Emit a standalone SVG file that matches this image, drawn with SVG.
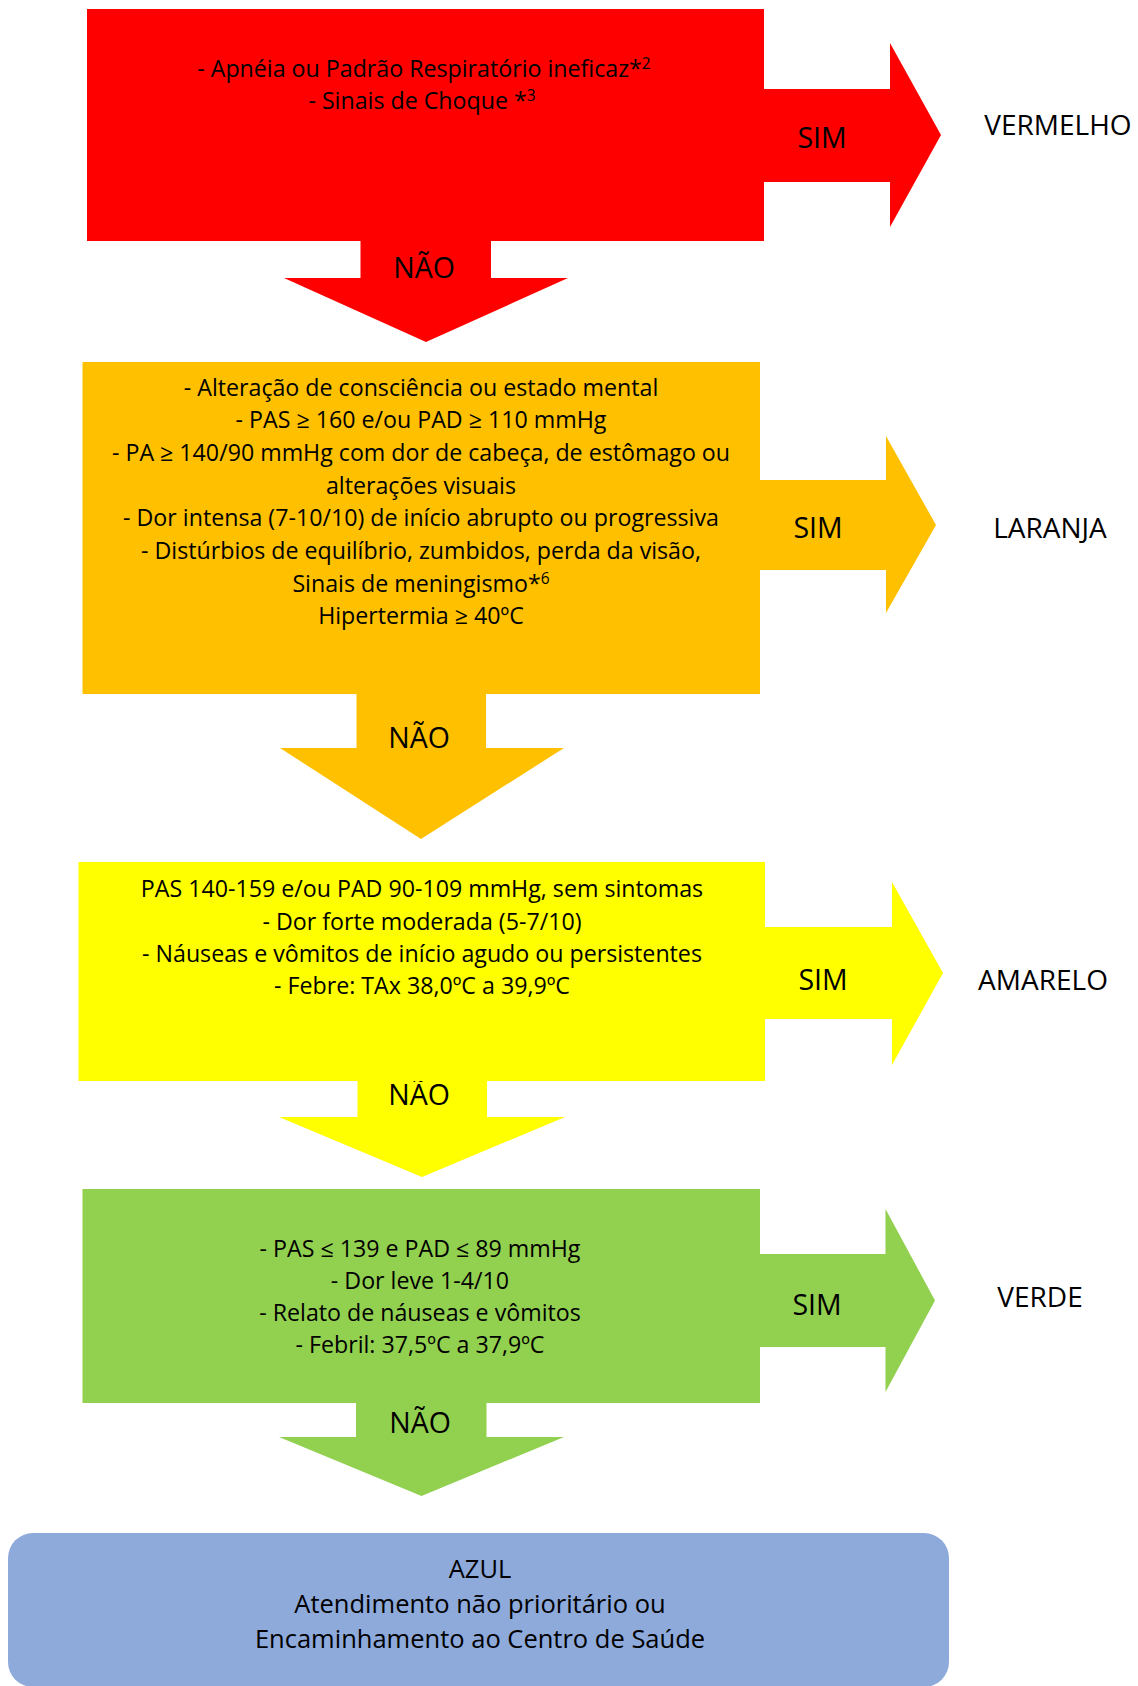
<svg xmlns="http://www.w3.org/2000/svg" width="1138" height="1686" viewBox="0 0 1138 1686">
<style>
  text { font-family: "Open Sans", Lato, "Liberation Sans", sans-serif; fill: #000; text-anchor: middle; }
  .body { font-size: 23.2px; }
  .lbl { font-size: 28.5px; }
  .side { font-size: 28px; }
  .azul { font-size: 25.5px; }
  .sup { font-size: 15.5px; }
  .red { fill: #FF0000; }
  .orange { fill: #FFC000; }
  .yellow { fill: #FFFF00; }
  .green { fill: #92D050; }
  .blue { fill: #8EAADB; }
</style>
<rect width="1138" height="1686" fill="#FFFFFF"/>

<g id="connectors">
  <!-- red -->
  <polygon class="red" points="760,89 890,89 890,43 941,135 890,227 890,182 760,182"/>
  <polygon class="red" points="360.5,236 491,236 491,278 568,278 426,342 284,278 360.5,278"/>
  <!-- orange -->
  <polygon class="orange" points="756,480 886,480 886,436 936,525 886,613 886,570 756,570"/>
  <polygon class="orange" points="356.5,690 486,690 486,748 564,748 421,839 280,748 356.5,748"/>
  <!-- yellow -->
  <polygon class="yellow" points="761,927 892,927 892,882 943,973 892,1065 892,1019 761,1019"/>
  <polygon class="yellow" points="357.5,1077 487,1077 487,1117 565,1117 422,1177 279,1117 357.5,1117"/>
  <!-- green -->
  <polygon class="green" points="756,1254 885.5,1254 885.5,1209 935,1300.5 885.5,1392 885.5,1347 756,1347"/>
  <polygon class="green" points="356,1399 486.5,1399 486.5,1437 564,1437 421.5,1496 279,1437 356,1437"/>
  <!-- arrow labels -->
  <text class="lbl" x="822" y="148">SIM</text>
  <text class="lbl" x="424" y="278">NÃO</text>
  <text class="lbl" x="818" y="538">SIM</text>
  <text class="lbl" x="419" y="748">NÃO</text>
  <text class="lbl" x="823" y="990">SIM</text>
  <text class="lbl" x="419" y="1105">NÃO</text>
  <text class="lbl" x="817" y="1315">SIM</text>
  <text class="lbl" x="420" y="1433">NÃO</text>
</g>

<g id="node-vermelho">
  <rect class="red" x="87" y="9" width="677" height="232"/>
  <text class="body" x="424" y="77">- Apnéia ou Padrão Respiratório ineficaz*<tspan class="sup" dy="-8">2</tspan></text>
  <text class="body" x="422" y="109">- Sinais de Choque *<tspan class="sup" dy="-8">3</tspan></text>
</g>
<g id="label-vermelho"><text class="side" x="1058" y="135">VERMELHO</text></g>

<g id="node-laranja">
  <rect class="orange" x="82.5" y="362" width="677.5" height="332"/>
  <text class="body" x="421" y="395.5">- Alteração de consciência ou estado mental</text>
  <text class="body" x="421" y="428">- PAS ≥ 160 e/ou PAD ≥ 110 mmHg</text>
  <text class="body" x="421" y="461">- PA ≥ 140/90 mmHg com dor de cabeça, de estômago ou</text>
  <text class="body" x="421" y="493.5">alterações visuais</text>
  <text class="body" x="421" y="526">- Dor intensa (7-10/10) de início abrupto ou progressiva</text>
  <text class="body" x="421" y="559">- Distúrbios de equilíbrio, zumbidos, perda da visão,</text>
  <text class="body" x="421" y="591.5">Sinais de meningismo*<tspan class="sup" dy="-8">6</tspan></text>
  <text class="body" x="421" y="624">Hipertermia ≥ 40ºC</text>
</g>
<g id="label-laranja"><text class="side" x="1050" y="538">LARANJA</text></g>

<g id="node-amarelo">
  <rect class="yellow" x="78.5" y="862" width="686.5" height="219"/>
  <text class="body" x="422" y="897">PAS 140-159 e/ou PAD 90-109 mmHg, sem sintomas</text>
  <text class="body" x="422" y="929.5">- Dor forte moderada (5-7/10)</text>
  <text class="body" x="422" y="962">- Náuseas e vômitos de início agudo ou persistentes</text>
  <text class="body" x="422" y="994">- Febre: TAx 38,0ºC a 39,9ºC</text>
</g>
<g id="label-amarelo"><text class="side" x="1043" y="990">AMARELO</text></g>

<g id="node-verde">
  <rect class="green" x="82.5" y="1189" width="677.5" height="214"/>
  <text class="body" x="420" y="1256.5">- PAS ≤ 139 e PAD ≤ 89 mmHg</text>
  <text class="body" x="420" y="1289">- Dor leve 1-4/10</text>
  <text class="body" x="420" y="1321">- Relato de náuseas e vômitos</text>
  <text class="body" x="420" y="1353">- Febril: 37,5ºC a 37,9ºC</text>
</g>
<g id="label-verde"><text class="side" x="1040" y="1307">VERDE</text></g>

<g id="node-azul">
  <rect class="blue" x="8" y="1533" width="941" height="154" rx="25" ry="25"/>
  <text class="azul" x="480" y="1578">AZUL</text>
  <text class="azul" x="480" y="1613">Atendimento não prioritário ou</text>
  <text class="azul" x="480" y="1648">Encaminhamento ao Centro de Saúde</text>
</g>
</svg>
